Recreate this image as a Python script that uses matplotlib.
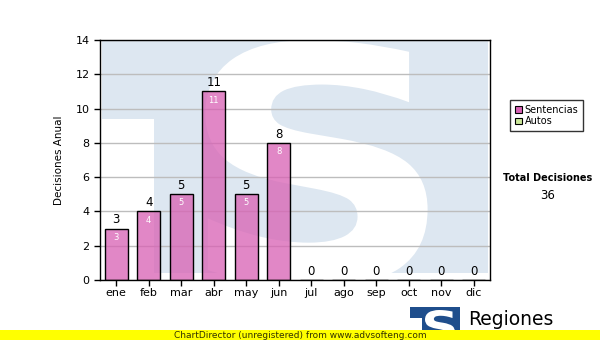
import numpy
import matplotlib
matplotlib.use("Agg")
import matplotlib.pyplot as pyplot
from matplotlib.patches import Rectangle, PathPatch, Patch
from matplotlib.textpath import TextPath
from matplotlib.font_manager import FontProperties
from matplotlib.transforms import Affine2D

# --- data ---
months = ["ene", "feb", "mar", "abr", "may", "jun",
          "jul", "ago", "sep", "oct", "nov", "dic"]
sentencias = [3, 4, 5, 11, 5, 8, 0, 0, 0, 0, 0, 0]
autos = [0, 0, 0, 0, 0, 0, 0, 0, 0, 0, 0, 0]
yTicks = [0, 2, 4, 6, 8, 10, 12, 14]
seriesNames = ["Sentencias", "Autos"]
totalLabel = "Total Decisiones"

pyplot.rc("font", family="DejaVu Sans", size=8)

barColor = "#d862b4"
autosColor = "#cce89a"
paleBlue = "#dde7f1"
logoBlue = "#1f4e8c"

figure = pyplot.figure(figsize=(6.0, 3.4), dpi=100)
axes = figure.add_axes([100 / 600, 60 / 340, 390 / 600, 240 / 340])


def glyphPatch(text, box, transform, color, zorder):
    # scale a bold glyph outline into box = (x0, y0, x1, y1)
    path = TextPath((0, 0), text, size=1,
                    prop=FontProperties(family="DejaVu Sans", weight="bold"))
    ext = path.get_extents()
    x0, y0, x1, y1 = box
    scaled = Affine2D().translate(-ext.x0, -ext.y0).scale(
        (x1 - x0) / ext.width, (y1 - y0) / ext.height).translate(x0, y0)
    return PathPatch(scaled.transform_path(path), facecolor=color,
                     edgecolor="none", transform=transform, zorder=zorder)


# watermark logo in the plot background
axes.add_patch(Rectangle((0.005, 0.03), 0.99, 0.97, transform=axes.transAxes,
                         facecolor=paleBlue, edgecolor="none", zorder=0))
axes.add_patch(Rectangle((0.005, 0.03), 0.133, 0.64, transform=axes.transAxes,
                         facecolor="white", edgecolor="none", zorder=0.1))
sPatch = glyphPatch("S", (0.27, -0.03, 0.84, 1.0), axes.transAxes, "white", 0.2)
axes.add_patch(sPatch)
sPatch.set_clip_path(axes.patch)

x = numpy.arange(len(months))
axes.bar(x, sentencias, width=0.72, color=barColor, alpha=0.76,
         edgecolor="none", zorder=3)
axes.bar(x, sentencias, width=0.72, facecolor="none",
         edgecolor="black", linewidth=1.0, zorder=4)

for xi, value in zip(x, sentencias):
    axes.annotate(str(value), (xi, value), xytext=(0, 1.5),
                  textcoords="offset points", ha="center", va="bottom",
                  fontsize=8.5, color="black", zorder=5)
    if value > 0:
        axes.annotate(str(value), (xi, value), xytext=(0, -3),
                      textcoords="offset points", ha="center", va="top",
                      fontsize=6, color="white", zorder=5)

axes.set_xlim(-0.5, len(months) - 0.5)
axes.set_ylim(yTicks[0], yTicks[-1])
axes.set_yticks(yTicks)
axes.set_xticks(x)
axes.set_xticklabels(months)
axes.tick_params(axis="both", direction="out", length=4, width=1,
                 labelsize=8, colors="black")
axes.tick_params(axis="x", pad=2)
axes.yaxis.grid(True, color="#bdbdbd", linewidth=1.0, zorder=1)
axes.set_axisbelow(True)
for spine in axes.spines.values():
    spine.set_linewidth(1.0)
    spine.set_zorder(6)
axes.set_ylabel("Decisiones Anual", fontsize=7.5, labelpad=8)

# legend
handles = [Patch(facecolor=barColor, edgecolor="black", linewidth=0.8),
           Patch(facecolor=autosColor, edgecolor="black", linewidth=0.8)]
figure.legend(handles, seriesNames, loc="upper left",
              bbox_to_anchor=(510 / 600, 1 - 100 / 340), fontsize=7,
              frameon=True, fancybox=False, edgecolor="black",
              handlelength=0.7, handleheight=0.7, handletextpad=0.3,
              borderpad=0.5, labelspacing=0.15, borderaxespad=0)

figure.text(548 / 600, 1 - 178 / 340, totalLabel, ha="center", va="center",
            fontsize=7, fontweight="bold")
figure.text(548 / 600, 1 - 196 / 340, str(sum(sentencias) + sum(autos)),
            ha="center", va="center", fontsize=8.5)

# corner logo
logoAxes = figure.add_axes([0, 0, 1, 1], facecolor="none")
logoAxes.set_xlim(0, 600)
logoAxes.set_ylim(340, 0)
logoAxes.axis("off")
logoAxes.add_patch(Rectangle((410, 307), 50, 33, facecolor=logoBlue,
                             edgecolor="none"))
logoAxes.add_patch(Rectangle((410, 318), 12, 22, facecolor="white",
                             edgecolor="none"))
logoAxes.add_patch(glyphPatch("S", (425, 342, 455, 310), logoAxes.transData,
                              "white", 2))
logoAxes.text(468, 325, "Regiones", fontsize=13.5, ha="left",
              va="baseline", color="black")

# unregistered banner
logoAxes.add_patch(Rectangle((0, 330), 600, 10, facecolor="#ffff00",
                             edgecolor="none", zorder=5))
logoAxes.text(300, 335.5, "ChartDirector (unregistered) from www.advsofteng.com",
              fontsize=6.5, ha="center", va="center", color="#333300", zorder=6)

figure.savefig("out.png", dpi=100)
